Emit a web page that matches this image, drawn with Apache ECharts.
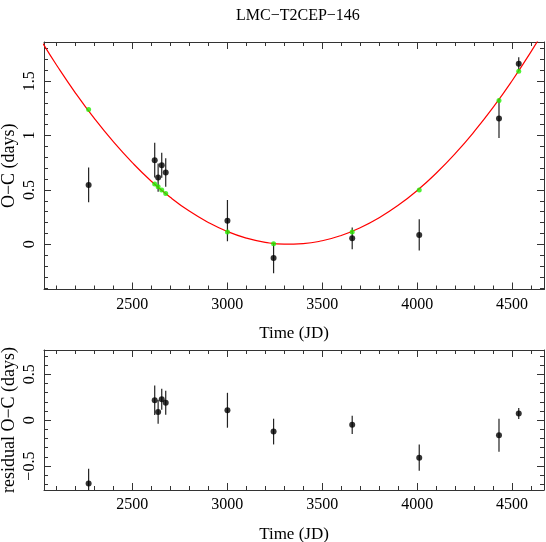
<!DOCTYPE html>
<html>
<head>
<meta charset="utf-8">
<script src="https://cdn.jsdelivr.net/npm/echarts@6/dist/echarts.min.js"></script>
<style>
  html, body { margin: 0; padding: 0; background: #fff; }
  #chart { width: 546px; height: 542px; }
</style>
</head>
<body>
<div id="chart"></div>
<script>
// observed epochs (JD - 2450000) and O-C values
const jd = [2270, 2618, 2636, 2655, 2676, 3001, 3244, 3658, 4011, 4431, 4535]
const oc = [0.546, 0.773, 0.613, 0.727, 0.660, 0.217, -0.126, 0.055, 0.086, 1.157, 1.660]
const ocErr = [0.16, 0.16, 0.13, 0.115, 0.13, 0.19, 0.14, 0.10, 0.143, 0.18, 0.06]
// model value at each epoch (green) and residuals
const ocModel = [1.239, 0.555, 0.528, 0.500, 0.466, 0.112, 0.004, 0.112, 0.500, 1.322, 1.590]
const residual = [-0.690, 0.217, 0.090, 0.228, 0.190, 0.108, -0.124, -0.051, -0.408, -0.164, 0.072]
// fitted curve
const curveJd = [2030, 2100, 2200, 2300, 2400, 2500, 2600, 2700, 2800, 2900, 3000, 3100, 3200, 3300,
  3400, 3500, 3600, 3700, 3800, 3900, 4000, 4100, 4200, 4300, 4400, 4500, 4600, 4670]
const curveOc = [1.845, 1.651, 1.393, 1.157, 0.943, 0.751, 0.580, 0.432, 0.305, 0.201, 0.118, 0.057, 0.018, 0.001,
  0.006, 0.032, 0.081, 0.152, 0.244, 0.358, 0.494, 0.653, 0.833, 1.035, 1.258, 1.504, 1.772, 1.972]
// tick labels
const xTicks = [2500, 3000, 3500, 4000, 4500]
const ocTicks = [0, 0.5, 1, 1.5]
const resTicks = [-0.5, 0, 0.5]

const xMin = 2035
const xMax = 4668
const ocMin = -0.416
const ocMax = 1.86
const resMin = -0.76
const resMax = 0.764

const FONT = 'Liberation Serif'
const FRAME = '#333'

function steps (from, to, step) {
  const out = []
  for (let v = from; v <= to + step / 2; v += step) out.push(Math.round(v * 1000) / 1000)
  return out
}
const xMinor = steps(2100, 4600, 100)
const ocMinor = steps(-0.4, 1.8, 0.1)
const resMinor = steps(-0.7, 0.7, 0.1)

const fmt = v => String(v).replace('-', '\u2212')

function axisPair (gridIndex, min, max, major, minor, pos, extra) {
  const base = { gridIndex, type: 'value', min, max, position: pos, offset: 0, splitLine: { show: false } }
  const main = Object.assign({}, base, {
    axisLine: { show: true, onZero: false, lineStyle: { color: FRAME, width: 1 } },
    axisTick: { show: true, inside: true, length: 7, customValues: major, lineStyle: { color: FRAME } },
    axisLabel: { show: false }
  }, extra || {})
  const small = Object.assign({}, base, {
    axisLine: { show: false, onZero: false },
    axisTick: { show: true, inside: true, length: 4, customValues: minor, lineStyle: { color: FRAME } },
    axisLabel: { show: false }
  })
  return [main, small]
}

function xLabelled (gap) {
  return {
    axisLabel: { show: true, customValues: xTicks, margin: 7, formatter: fmt, color: '#000', fontFamily: FONT, fontSize: 16 },
    name: 'Time (JD)',
    nameLocation: 'middle',
    nameGap: gap,
    nameMoveOverlap: false,
    nameTextStyle: { color: '#000', fontFamily: FONT, fontSize: 17 }
  }
}

function yLabelled (ticks, name) {
  return {
    axisLabel: { show: true, customValues: ticks, rotate: 90, margin: 6, formatter: fmt, color: '#000', fontFamily: FONT, fontSize: 16 },
    name,
    nameLocation: 'middle',
    nameRotate: 90,
    nameGap: 26,
    nameMoveOverlap: false,
    nameTextStyle: { color: '#000', fontFamily: FONT, fontSize: 18 }
  }
}

const xAxis = [].concat(
  axisPair(0, xMin, xMax, xTicks, xMinor, 'bottom', xLabelled(36)),
  axisPair(0, xMin, xMax, xTicks, xMinor, 'top'),
  axisPair(1, xMin, xMax, xTicks, xMinor, 'bottom', xLabelled(36)),
  axisPair(1, xMin, xMax, xTicks, xMinor, 'top')
)
const yAxis = [].concat(
  axisPair(0, ocMin, ocMax, ocTicks, ocMinor, 'left', yLabelled(ocTicks, 'O\u2212C (days)')),
  axisPair(0, ocMin, ocMax, ocTicks, ocMinor, 'right'),
  axisPair(1, resMin, resMax, resTicks, resMinor, 'left', yLabelled(resTicks, 'residual O\u2212C (days)')),
  axisPair(1, resMin, resMax, resTicks, resMinor, 'right')
)

function errorBars (values, errs, gridIdx) {
  return {
    type: 'custom',
    xAxisIndex: gridIdx * 4,
    yAxisIndex: gridIdx * 4,
    clip: true,
    silent: true,
    z: 2,
    data: jd.map((x, i) => [x, values[i], errs[i]]),
    renderItem (params, api) {
      const x = api.value(0)
      const y = api.value(1)
      const e = api.value(2)
      const p1 = api.coord([x, y + e])
      const p2 = api.coord([x, y - e])
      return {
        type: 'line',
        shape: { x1: p1[0], y1: p1[1], x2: p2[0], y2: p2[1] },
        style: { stroke: '#222', lineWidth: 1.2 }
      }
    }
  }
}

const chart = echarts.init(document.getElementById('chart'), null, { renderer: 'canvas' })
chart.setOption({
  backgroundColor: '#fff',
  animation: false,
  title: {
    text: 'LMC\u2212T2CEP\u2212146',
    left: 231,
    top: 3,
    textStyle: { color: '#000', fontFamily: FONT, fontSize: 16, fontWeight: 'normal' }
  },
  grid: [
    { left: 44, right: 2, top: 42, height: 247.5, containLabel: false, outerBoundsMode: 'none' },
    { left: 44, right: 2, top: 350, height: 140, containLabel: false, outerBoundsMode: 'none' }
  ],
  xAxis,
  yAxis,
  series: [
    errorBars(oc, ocErr, 0),
    {
      type: 'scatter',
      xAxisIndex: 0,
      yAxisIndex: 0,
      symbol: 'circle',
      symbolSize: 6,
      itemStyle: { color: '#000' },
      z: 3,
      data: jd.map((x, i) => [x, oc[i]])
    },
    {
      type: 'line',
      xAxisIndex: 0,
      yAxisIndex: 0,
      smooth: true,
      showSymbol: false,
      clip: true,
      lineStyle: { color: '#ff0000', width: 1.2 },
      z: 4,
      data: curveJd.map((x, i) => [x, curveOc[i]])
    },
    {
      type: 'scatter',
      xAxisIndex: 0,
      yAxisIndex: 0,
      symbol: 'circle',
      symbolSize: 5,
      itemStyle: { color: '#22ee00' },
      z: 5,
      data: jd.map((x, i) => [x, ocModel[i]])
    },
    errorBars(residual, ocErr, 1),
    {
      type: 'scatter',
      xAxisIndex: 4,
      yAxisIndex: 4,
      symbol: 'circle',
      symbolSize: 6,
      itemStyle: { color: '#000' },
      z: 3,
      data: jd.map((x, i) => [x, residual[i]])
    }
  ]
})
</script>
</body>
</html>
